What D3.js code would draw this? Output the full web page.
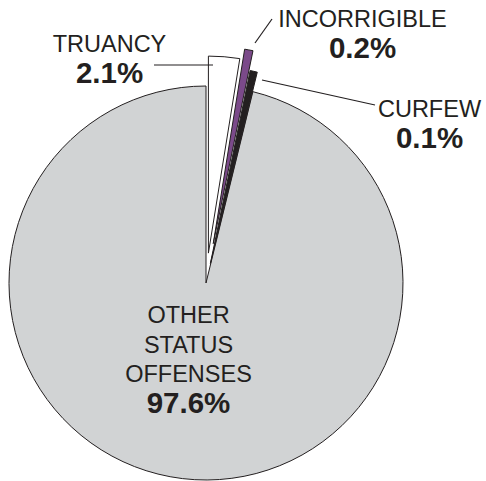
<!DOCTYPE html>
<html>
<head>
<meta charset="utf-8">
<script src="https://cdn.jsdelivr.net/npm/d3@7"></script>
<style>
  body { margin: 0; background: #fff; }
  svg { display: block; font-family: Arial, "Liberation Sans", sans-serif; }
</style>
</head>
<body>
<div id="chart"></div>
<script>
// status offense shares, clockwise from 12 o'clock
var categories = ["TRUANCY", "INCORRIGIBLE", "CURFEW", "OTHER STATUS OFFENSES"];
var values = [2.1, 0.2, 0.1, 97.6];
var valueLabels = ["2.1%", "0.2%", "0.1%", "97.6%"];

var width = 486,
	height = 481,
	CX = 206,
	CY = 283,
	RADIUS = 197,
	INK = "#231f20";

var colors = ["#ffffff", "#7b4a8a", INK, "#d1d3d4"];
// how far each wedge is pulled out of the pie
var explode = [30, 40, 20, 0];

// small slivers get a little extra room so they stay visible
var weight = d3.scaleLinear().domain([0, 100]).range([0.5, 100.5]);

var pie = d3.pie()
	.sort(null)
	.value(function(d) { return weight(d); });

var arc = d3.arc()
	.innerRadius(0)
	.outerRadius(RADIUS);

var arcs = pie(values);

var svg = d3.select("#chart").append("svg")
	.attr("width", width)
	.attr("height", height);

var g = svg.append("g").attr("transform", "translate(" + CX + "," + CY + ")");

// other first, then truancy, curfew, incorrigible on top
var drawOrder = [3, 0, 2, 1];

g.selectAll("path")
	.data(drawOrder.map(function(i) { return { a: arcs[i], i: i }; }))
	.enter()
	.append("path")
	.attr("d", function(d) { return arc(d.a); })
	.attr("transform", function(d) {
		var mid = (d.a.startAngle + d.a.endAngle) / 2;
		var k = explode[d.i];
		return "translate(" + (Math.sin(mid) * k) + "," + (-Math.cos(mid) * k) + ")";
	})
	.style("fill", function(d) { return colors[d.i]; })
	.style("stroke", INK)
	.style("stroke-width", 1)
	.style("stroke-linejoin", "miter");

// leader lines
var leaders = [
	[[154, 65], [213, 65]],
	[[272, 19], [255, 43]],
	[[262, 80], [375, 105]]
];

svg.selectAll(".leader")
	.data(leaders)
	.enter()
	.append("path")
	.attr("class", "leader")
	.attr("d", d3.line())
	.style("fill", "none")
	.style("stroke", INK)
	.style("stroke-width", 1.2);

// label blocks: name lines then the bold share
var labelPos = [
	{ x: 109.5, y: 52, lines: ["TRUANCY"] },
	{ x: 362.5, y: 27, lines: ["INCORRIGIBLE"] },
	{ x: 429.5, y: 117, lines: ["CURFEW"] },
	{ x: 188.5, y: 323, lines: ["OTHER", "STATUS", "OFFENSES"] }
];
var LINE = 29.5;

labelPos.forEach(function(p, i) {
	var t = svg.append("g");
	p.lines.forEach(function(s, j) {
		t.append("text")
			.attr("x", p.x)
			.attr("y", p.y + j * LINE)
			.attr("text-anchor", "middle")
			.style("font-size", "23.5px")
			.style("fill", INK)
			.text(s);
	});
	t.append("text")
		.attr("x", p.x)
		.attr("y", p.y + p.lines.length * LINE + 1)
		.attr("text-anchor", "middle")
		.style("font-size", "29.5px")
		.style("font-weight", "bold")
		.style("fill", INK)
		.text(valueLabels[i]);
});
</script>
</body>
</html>
